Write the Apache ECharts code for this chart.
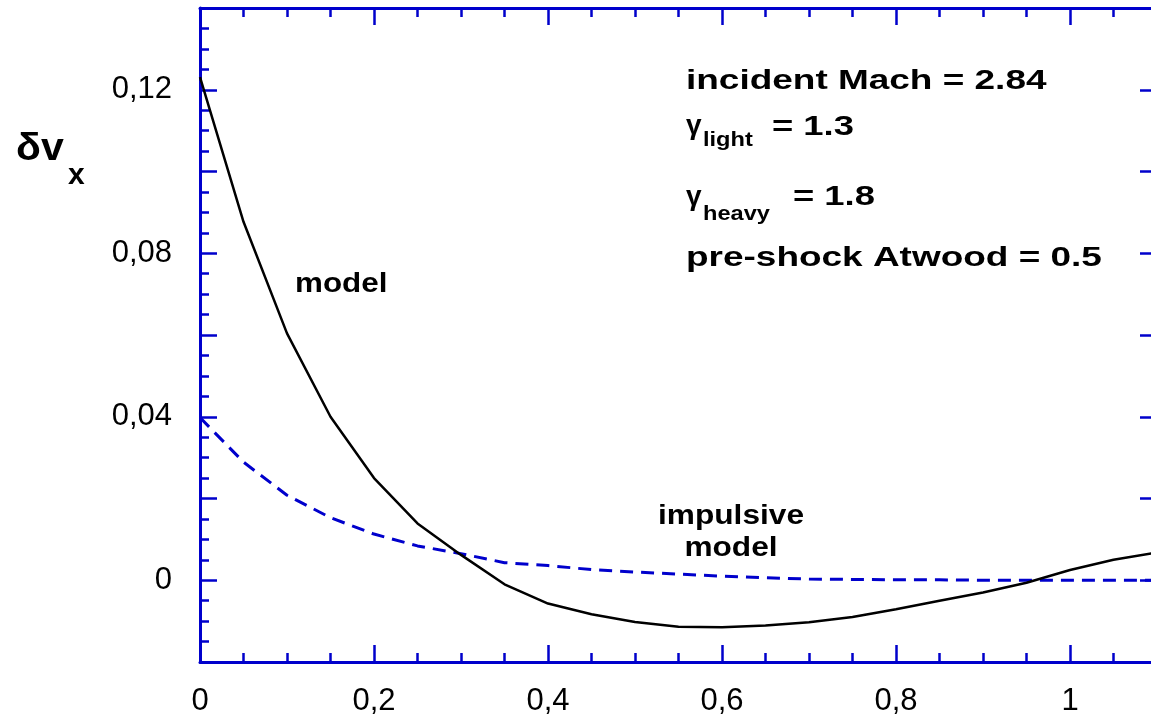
<!DOCTYPE html>
<html>
<head>
<meta charset="utf-8">
<script src="https://cdn.jsdelivr.net/npm/echarts@6/dist/echarts.min.js"></script>
<style>
html, body { margin: 0; padding: 0; background: #fff; }
#chart { width: 1151px; height: 722px; }
</style>
</head>
<body>
<div id="chart"></div>
<script>
// values, x step 0.05
var xValues = [0, 0.05, 0.1, 0.15, 0.2, 0.25, 0.3, 0.35, 0.4, 0.45, 0.5, 0.55,
               0.6, 0.65, 0.7, 0.75, 0.8, 0.85, 0.9, 0.95, 1.0, 1.05, 1.1];
var modelValues = [0.1231, 0.0877, 0.0604, 0.0400, 0.0250, 0.0139, 0.0062, -0.0010,
                   -0.0057, -0.0083, -0.0102, -0.0114, -0.0115, -0.0111, -0.0103, -0.0090,
                   -0.0071, -0.0050, -0.0030, -0.0006, 0.0025, 0.0050, 0.0068];
var impulsiveValues = [0.0398, 0.0289, 0.0208, 0.0153, 0.0113, 0.0084, 0.0065, 0.0043,
                       0.0036, 0.0026, 0.0020, 0.0015, 0.0010, 0.0006, 0.0003, 0.0002,
                       0.0001, 0.0001, 0.0000, 0.0000, 0.0000, 0.0000, 0.0000];
var xTickLabels = ['0', '0,2', '0,4', '0,6', '0,8', '1'];
var yTickLabels = ['0', '0,04', '0,08', '0,12'];

var blue = '#0000cc';
var font = '"Liberation Sans", Arial, sans-serif';

function pairs(ys) {
    return xValues.map(function (x, i) { return [x, ys[i]]; });
}

function pickLabel(v, step, labels) {
    var i = Math.round(v / step);
    if (Math.abs(v - i * step) > 1e-6 || i < 0 || i >= labels.length) return '';
    return labels[i];
}

function xAxisCfg(pos) {
    return {
        type: 'value', position: pos, min: 0, max: 1.1, interval: 0.2,
        axisLine: { onZero: false, lineStyle: { color: blue, width: 3 } },
        axisTick: { inside: true, length: 17, lineStyle: { color: blue, width: 2.5 } },
        minorTick: { show: true, splitNumber: 4, length: 9, lineStyle: { color: blue, width: 2.5 } },
        splitLine: { show: false },
        axisLabel: {
            show: pos === 'bottom', margin: 24, color: '#000', fontSize: 31, fontFamily: font,
            formatter: function (v) { return pickLabel(v, 0.2, xTickLabels); }
        }
    };
}

function yAxisCfg(pos) {
    // right axis sits just past the window edge, only its long ticks peek in
    return {
        type: 'value', position: pos, min: -0.02, max: 0.14, interval: 0.02,
        axisLine: { onZero: false, lineStyle: { color: blue, width: 3 } },
        axisTick: { inside: true, length: 17, lineStyle: { color: blue, width: 2.5 } },
        minorTick: { show: true, splitNumber: 4, length: pos === 'left' ? 9 : 5, lineStyle: { color: blue, width: 2.5 } },
        splitLine: { show: false },
        axisLabel: {
            show: pos === 'left', margin: 28, color: '#000', fontSize: 31, fontFamily: font,
            formatter: function (v) { return pickLabel(v, 0.04, yTickLabels); }
        }
    };
}

function txt(x, y, s, size, sx, align) {
    return {
        type: 'text', x: x, y: y, scaleX: sx || 1,
        style: {
            text: s, fill: '#000', lineHeight: 32,
            font: 'bold ' + size + 'px ' + font,
            textAlign: align || 'left', textVerticalAlign: 'middle',
            align: align || 'left', verticalAlign: 'middle'
        }
    };
}

var chart = echarts.init(document.getElementById('chart'));
var option = {
    animation: false,
    backgroundColor: '#fff',
    grid: { left: 200, right: -6, top: 8, bottom: 60, containLabel: false, outerBoundsMode: 'none' },
    xAxis: [xAxisCfg('bottom'), xAxisCfg('top')],
    yAxis: [yAxisCfg('left'), yAxisCfg('right')],
    series: [
        {
            name: 'impulsive model', type: 'line', data: pairs(impulsiveValues),
            symbol: 'none', lineStyle: { color: blue, width: 3, type: [13, 8] }
        },
        {
            name: 'model', type: 'line', data: pairs(modelValues),
            symbol: 'none', lineStyle: { color: '#000', width: 2.5 }
        }
    ],
    graphic: [
        // y axis title
        txt(16, 150, 'δv', 38, 1.08),
        txt(68, 176, 'x', 30),
        // curve labels
        txt(295, 284, 'model', 28, 1.12),
        txt(731, 532, 'impulsive\nmodel', 28, 1.13, 'center'),
        // parameters
        txt(686, 81, 'incident Mach = 2.84', 28, 1.32),
        txt(686, 126, 'γ', 28),
        txt(703, 140, 'light', 20, 1.18),
        txt(772, 127, '= 1.3', 28, 1.3),
        txt(686, 197, 'γ', 28),
        txt(703, 214, 'heavy', 20, 1.18),
        txt(793, 197, '= 1.8', 28, 1.3),
        txt(686, 258, 'pre-shock Atwood = 0.5', 28, 1.32)
    ]
};
chart.setOption(option);
</script>
</body>
</html>
